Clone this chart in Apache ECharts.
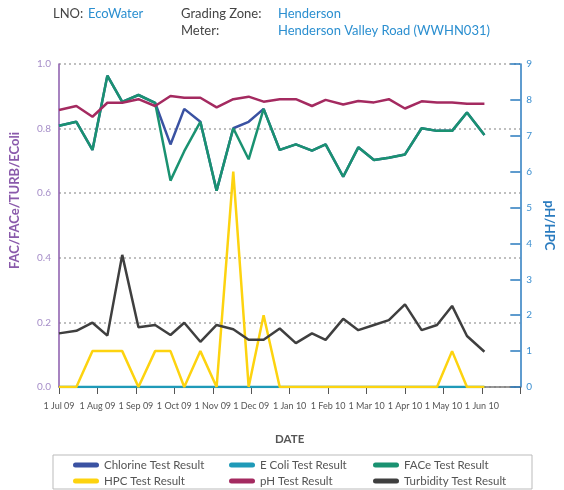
<!DOCTYPE html>
<html>
<head>
<meta charset="utf-8">
<script src="https://cdn.jsdelivr.net/npm/echarts@6/dist/echarts.min.js"></script>
<style>
  html, body { margin: 0; padding: 0; background: #fff; }
  #chart { width: 564px; height: 490px; }
</style>
</head>
<body>
<div id="chart"></div>
<script>
// sample dates
var dates = ['2009-07-01','2009-07-15','2009-07-28','2009-08-09','2009-08-21','2009-09-03','2009-09-16',
  '2009-09-28','2009-10-09','2009-10-22','2009-11-04','2009-11-17','2009-11-29','2009-12-11','2009-12-24',
  '2010-01-06','2010-01-19','2010-01-30','2010-02-12','2010-02-23','2010-03-07','2010-03-19','2010-04-01',
  '2010-04-14','2010-04-26','2010-05-08','2010-05-20','2010-06-03'];

var monthLabels = ['1 Jul 09','1 Aug 09','1 Sep 09','1 Oct 09','1 Nov 09','1 Dec 09','1 Jan 10',
  '1 Feb 10','1 Mar 10','1 Apr 10','1 May 10','1 Jun 10',''];

var chlorine = [0.809,0.821,0.734,0.964,0.883,0.904,0.880,0.751,0.861,0.821,0.608,0.801,0.821,0.861,
  0.734,0.751,0.732,0.751,0.651,0.742,0.703,0.710,0.720,0.801,0.793,0.793,0.850,0.780];
var ecoli = [0,0,0,0,0,0,0,0,0,0,0,0,0,0,0,0,0,0,0,0,0,0,0,0,0,0,0,0];
var face = [0.809,0.821,0.734,0.964,0.883,0.904,0.880,0.639,0.730,0.821,0.608,0.801,0.705,0.861,
  0.734,0.751,0.732,0.751,0.651,0.742,0.703,0.710,0.720,0.801,0.793,0.793,0.850,0.780];
var hpc = [0,0,1,1,1,0,1,1,0,1,0,6,0,2,0,0,0,0,0,0,0,0,0,0,0,1,0,0];
var ph = [7.72,7.83,7.53,7.92,7.92,8.02,7.83,8.11,8.06,8.06,7.79,8.02,8.09,7.95,8.02,8.02,7.83,8.00,
  7.87,7.97,7.93,8.02,7.76,7.96,7.93,7.93,7.89,7.89];
var turbidity = [0.166,0.174,0.199,0.159,0.409,0.185,0.192,0.161,0.199,0.140,0.192,0.179,0.146,0.146,
  0.181,0.136,0.166,0.146,0.211,0.176,0.192,0.207,0.256,0.176,0.192,0.251,0.158,0.109];

// x axis is in months counted from 1 Jul 09
function monthPos(s) {
  var p = s.split('-'), y = +p[0], m = +p[1], d = +p[2];
  var dim = new Date(y, m, 0).getDate();
  return (y - 2009) * 12 + (m - 7) + (d - 1) / dim;
}
function pairs(vals) {
  return vals.map(function (v, i) { return [monthPos(dates[i]), v]; });
}

var FONT = 'Lato';
var pill = 'path://M2.5,0 H23.5 A2.5,2.5 0 0 1 23.5,5 H2.5 A2.5,2.5 0 0 1 2.5,0 Z';

var chart = echarts.init(document.getElementById('chart'));

function line(name, vals, color, yIdx) {
  return {
    name: name, type: 'line', yAxisIndex: yIdx, data: pairs(vals),
    symbol: 'none', color: color,
    lineStyle: { width: 2.5, color: color },
    emphasis: { disabled: true }
  };
}

// one legend per column, two rows each
function legendCol(left, names) {
  return {
    orient: 'vertical', left: left, top: 459, height: 32, padding: 0,
    itemWidth: 26, itemHeight: 5, itemGap: 4, icon: pill,
    selectedMode: false,
    textStyle: { fontFamily: FONT, fontSize: 11.5, color: '#555' },
    data: names
  };
}

var option = {
  animation: false,
  textStyle: { fontFamily: FONT },
  grid: { left: 59, right: 32, top: 64, bottom: 103 },
  legend: [
    legendCol(73, ['Chlorine Test Result', 'HPC Test Result']),
    legendCol(229, ['E Coli Test Result', 'pH Test Result']),
    legendCol(373, ['FACe Test Result', 'Turbidity Test Result'])
  ],
  graphic: [
    { type: 'rect', shape: { x: 53, y: 455, width: 479, height: 34 },
      style: { fill: 'none', stroke: '#bbb', lineWidth: 1 } },
    { type: 'text', x: 53, y: 7, style: { text: 'LNO:', font: '13px Lato', fill: '#444' } },
    { type: 'text', x: 88, y: 7, style: { text: 'EcoWater', font: '13px Lato', fill: '#2b8fd0' } },
    { type: 'text', x: 181, y: 7, style: { text: 'Grading Zone:', font: '13px Lato', fill: '#444' } },
    { type: 'text', x: 278, y: 7, style: { text: 'Henderson', font: '13px Lato', fill: '#2b8fd0' } },
    { type: 'text', x: 181, y: 24, style: { text: 'Meter:', font: '13px Lato', fill: '#444' } },
    { type: 'text', x: 278, y: 24, style: { text: 'Henderson Valley Road (WWHN031)', font: '13px Lato', fill: '#2b8fd0' } }
  ],
  xAxis: {
    type: 'value', min: 0, max: 12, interval: 1,
    name: 'DATE', nameLocation: 'middle', nameGap: 46,
    nameTextStyle: { fontFamily: FONT, fontWeight: 'bold', fontSize: 11.5, color: '#555' },
    axisLine: { lineStyle: { color: '#777', width: 1.5 } },
    axisTick: { length: 7, lineStyle: { color: '#555' } },
    axisLabel: { fontSize: 9, color: '#555', margin: 15,
      formatter: function (v) { return monthLabels[Math.round(v)] || ''; } },
    splitLine: { show: false }
  },
  yAxis: [
    {
      type: 'value', min: 0, max: 1, interval: 0.2, position: 'left',
      name: 'FAC/FACe/TURB/EColi', nameLocation: 'middle', nameGap: 38,
      nameTextStyle: { fontFamily: FONT, fontWeight: 'bold', fontSize: 13, color: '#8a5aab',
        padding: [0, 0, 0, 50] },
      axisLine: { show: true, lineStyle: { color: '#8a5aab', width: 1.5 } },
      axisTick: { show: false },
      axisLabel: { fontSize: 10, color: '#a58dc8', margin: 8,
        formatter: function (v) { return v.toFixed(1); } },
      splitLine: { show: true, lineStyle: { color: '#aaa', type: [2, 3], width: 1.5 } }
    },
    {
      type: 'value', min: 0, max: 9, interval: 1, position: 'right',
      name: 'pH/HPC', nameLocation: 'middle', nameGap: 20, nameRotate: -90,
      nameTextStyle: { fontFamily: FONT, fontWeight: 'bold', fontSize: 13, color: '#2a7bbf' },
      axisLine: { show: true, lineStyle: { color: '#2a7bbf', width: 1.5 } },
      axisTick: { inside: true, length: 10, lineStyle: { color: '#2a7bbf', width: 1.5 } },
      axisLabel: { fontSize: 10, color: '#3b8fd0', margin: 6 },
      splitLine: { show: false }
    }
  ],
  series: [
    line('Chlorine Test Result', chlorine, '#3a52a2', 0),
    line('E Coli Test Result', ecoli, '#1f9ab8', 0),
    line('FACe Test Result', face, '#1a9271', 0),
    line('HPC Test Result', hpc, '#fdd30f', 1),
    line('pH Test Result', ph, '#a42a60', 1),
    line('Turbidity Test Result', turbidity, '#3f3f3f', 0)
  ]
};
chart.setOption(option);
</script>
</body>
</html>
